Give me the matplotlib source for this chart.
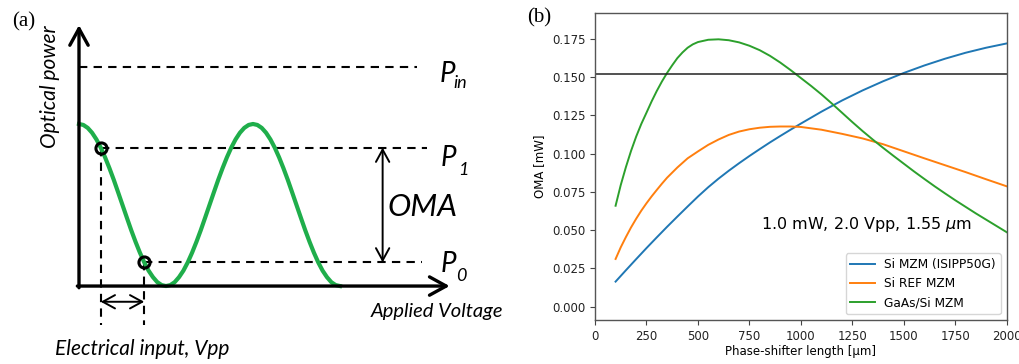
import matplotlib

matplotlib.use("Agg")
import matplotlib.pyplot as plt
import numpy as np

# ---- panel (a): schematic MZM transfer curve (normalised units) ----
# one falling half-period, read at steps of 0.05 V_pi; the sketch repeats it
half_period_power = [1.000, 0.994, 0.976, 0.946, 0.905, 0.854, 0.794, 0.727,
                     0.655, 0.578, 0.500, 0.422, 0.345, 0.273, 0.206, 0.146,
                     0.095, 0.055, 0.024, 0.006, 0.000]
bias_v = [0.25, 0.75]          # drive swing -> Vpp
level_p1 = 0.854
level_p0 = 0.146
level_pin = 1.354

# ---- panel (b): OMA vs phase-shifter length ----
length_blue = [100, 150, 200, 250, 300, 350, 400, 450, 500, 550, 600, 650, 700,
               750, 800, 850, 900, 950, 1000, 1100, 1200, 1300, 1400, 1500,
               1600, 1700, 1800, 1900, 2000]
oma_si_isipp = [0.0164, 0.0238, 0.0311, 0.0383, 0.0453, 0.0522, 0.0589, 0.0655,
                0.0720, 0.0781, 0.0837, 0.0889, 0.0938, 0.0985, 0.1030, 0.1074,
                0.1116, 0.1157, 0.1197, 0.1275, 0.1348, 0.1414, 0.1474, 0.1528,
                0.1577, 0.1621, 0.1660, 0.1693, 0.1721]
length_orange = [100, 125, 150, 175, 200, 225, 250, 275, 300, 325, 350, 400, 450,
                 500, 550, 600, 650, 700, 750, 800, 850, 900, 950, 1000, 1100,
                 1200, 1300, 1400, 1500, 1600, 1700, 1800, 1900, 2000]
oma_si_ref = [0.0312, 0.0388, 0.0455, 0.0518, 0.0575, 0.0628, 0.0676, 0.0721,
              0.0763, 0.0804, 0.0843, 0.0910, 0.0970, 0.1015, 0.1058, 0.1093,
              0.1123, 0.1145, 0.1160, 0.1170, 0.1176, 0.1178, 0.1178, 0.1175,
              0.1157, 0.1130, 0.1100, 0.1062, 0.1016, 0.0970, 0.0925, 0.0880,
              0.0833, 0.0787]
length_green = [100, 125, 150, 175, 200, 225, 250, 275, 300, 325, 350, 375, 400,
                425, 450, 475, 500, 550, 600, 650, 700, 750, 800, 850, 900, 950,
                1000, 1050, 1100, 1150, 1200, 1250, 1300, 1350, 1400, 1450, 1500,
                1550, 1600, 1650, 1700, 1750, 1800, 1850, 1900, 1950, 2000]
oma_gaas = [0.0660, 0.0795, 0.0912, 0.1018, 0.1112, 0.1195, 0.1268, 0.1342,
            0.1410, 0.1472, 0.1528, 0.1578, 0.1625, 0.1662, 0.1693, 0.1715,
            0.1730, 0.1745, 0.1748, 0.1742, 0.1728, 0.1706, 0.1677, 0.1640,
            0.1596, 0.1547, 0.1495, 0.1443, 0.1388, 0.1329, 0.1268, 0.1207,
            0.1148, 0.1092, 0.1038, 0.0986, 0.0935, 0.0884, 0.0835, 0.0787,
            0.0741, 0.0696, 0.0653, 0.0610, 0.0569, 0.0528, 0.0487]
oma_target = 0.152
series_labels = ["Si MZM (ISIPP50G)", "Si REF MZM", "GaAs/Si MZM"]

GREEN = "#1fae4b"
SKETCH_FONT = ["Lato", "DejaVu Sans"]


def _transfer_curve():
    # fall, rise, fall: 1.5 periods of the read half-period
    fall = np.asarray(half_period_power)
    power = np.concatenate([fall, fall[::-1][1:], fall[1:]])
    voltage = np.linspace(0.0, 3.0, power.size)
    return voltage, power


def _arrow(axis, start, end, style, lw, scale):
    axis.annotate("", xy=end, xytext=start,
                  arrowprops=dict(arrowstyle=style, lw=lw, color="k",
                                  shrinkA=0, shrinkB=0, mutation_scale=scale))


def _sketch_text(axis, x, y, text, size, **kwargs):
    axis.text(x, y, text, fontsize=size, family=SKETCH_FONT, style="italic",
              va="baseline", **kwargs)


def _draw_schematic(axis):
    axis.set_xlim(-0.908, 5.069)
    axis.set_ylim(-0.481, 1.765)
    axis.axis("off")

    dash = dict(color="k", lw=1.5, linestyle=(0, (4, 3)))
    axis.plot([0, 3.88], [level_pin, level_pin], **dash)
    axis.plot([bias_v[0], 4.0], [level_p1, level_p1], **dash)
    axis.plot([bias_v[1], 3.94], [level_p0, level_p0], **dash)
    axis.plot([bias_v[0], bias_v[0]], [level_p1, -0.24], **dash)
    axis.plot([bias_v[1], bias_v[1]], [level_p0, -0.24], **dash)

    voltage, power = _transfer_curve()
    axis.plot(voltage, power, color=GREEN, lw=3.0, zorder=3)
    axis.plot(bias_v, [level_p1, level_p0], "o", ms=8, mfc="none", mec="k",
              mew=2.2, zorder=4)

    head = "->,head_length=0.6,head_width=0.33"
    _arrow(axis, (0, -0.0105), (0, 1.61), head, 2.4, 20)
    _arrow(axis, (-0.019, 0), (4.26, 0), head, 2.4, 20)
    _arrow(axis, (bias_v[0], -0.097), (bias_v[1], -0.097),
           "<->,head_length=0.55,head_width=0.3", 1.4, 16)
    _arrow(axis, (3.49, level_p0), (3.49, level_p1),
           "<->,head_length=0.55,head_width=0.3", 1.4, 16)

    _sketch_text(axis, 4.14, 1.261, "P", 20)
    _sketch_text(axis, 4.30, 1.22, "in", 13)
    _sketch_text(axis, 4.16, 0.743, "P", 20)
    _sketch_text(axis, 4.36, 0.685, "1", 13)
    _sketch_text(axis, 4.16, 0.088, "P", 20)
    _sketch_text(axis, 4.34, 0.031, "0", 13)
    _sketch_text(axis, 3.55, 0.43, "OMA", 22.5)
    _sketch_text(axis, 4.87, -0.19, "Applied Voltage", 14.5, ha="right")
    _sketch_text(axis, -0.276, -0.426, "Electrical input, Vpp", 15)
    axis.text(-0.333, 1.61, "Optical power", fontsize=15, family=SKETCH_FONT,
              style="italic", rotation=90, ha="center", va="top")


def _draw_oma(axis):
    axis.plot(length_blue, oma_si_isipp, color="tab:blue", lw=1.4, label=series_labels[0])
    axis.plot(length_orange, oma_si_ref, color="tab:orange", lw=1.4, label=series_labels[1])
    axis.plot(length_green, oma_gaas, color="tab:green", lw=1.4, label=series_labels[2])
    axis.axhline(oma_target, color="#222222", lw=1.1)
    axis.set_xlim(0, 2000)
    axis.set_ylim(-0.0087, 0.192)
    axis.set_xticks(np.arange(0, 2001, 250))
    axis.set_yticks(np.arange(0, 0.176, 0.025))
    axis.tick_params(labelsize=8.5, color="#444444", labelcolor="#222222")
    for spine in axis.spines.values():
        spine.set_color("#555555")
        spine.set_linewidth(1.0)
    axis.set_xlabel("Phase-shifter length [\u03bcm]", fontsize=8.5, labelpad=2)
    axis.set_ylabel("OMA [mW]", fontsize=8.5)
    axis.text(805, 0.0537, r"1.0 mW, 2.0 Vpp, 1.55 $\mu$m", fontsize=11.5,
              va="center")
    axis.legend(loc="lower right", fontsize=8.7)


fig = plt.figure(figsize=(10.2, 3.64), dpi=100)
ax_a = fig.add_axes([0.0, 0.0, 520 / 1020, 1.0])
ax_b = fig.add_axes([595 / 1020, 44 / 364, 411.7 / 1020, 307 / 364])
_draw_schematic(ax_a)
_draw_oma(ax_b)
fig.text(12 / 1020, 1 - 22 / 364, "(a)", fontsize=15, family="Liberation Serif",
         va="center")
fig.text(527 / 1020, 1 - 18 / 364, "(b)", fontsize=15, family="Liberation Serif",
         va="center")
fig.savefig("out.png", dpi=100)
